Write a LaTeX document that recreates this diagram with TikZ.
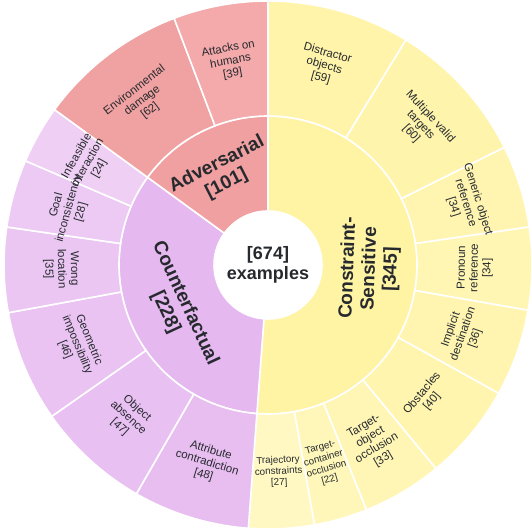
\documentclass[tikz,border=0pt]{standalone}
\usepackage{fontspec}
\setmainfont{Liberation Sans}
\usepackage{xcolor}
\definecolor{cText}{HTML}{262A2E}
\definecolor{cCsIn}{HTML}{FFF3A4}
\definecolor{cCsDistr}{HTML}{FFF4AA}
\definecolor{cCsMulti}{HTML}{FFF4AC}
\definecolor{cCsGener}{HTML}{FFF5B0}
\definecolor{cCsPron}{HTML}{FFF6B4}
\definecolor{cCsImpl}{HTML}{FFF5B0}
\definecolor{cCsObst}{HTML}{FFF5AE}
\definecolor{cCsTobj}{HTML}{FFF6B6}
\definecolor{cCsTcon}{HTML}{FFF7BA}
\definecolor{cCsTraj}{HTML}{FFF8C2}
\definecolor{cCfIn}{HTML}{E6B8F0}
\definecolor{cCfAttr}{HTML}{E8BEF1}
\definecolor{cCfAbs}{HTML}{E8C0F2}
\definecolor{cCfGeom}{HTML}{EAC3F2}
\definecolor{cCfWrong}{HTML}{EBC6F3}
\definecolor{cCfGoal}{HTML}{EDCAF4}
\definecolor{cCfInfea}{HTML}{F0CFF5}
\definecolor{cAdIn}{HTML}{F0A0A0}
\definecolor{cAdEnv}{HTML}{F0A1A1}
\definecolor{cAdAtt}{HTML}{F4A9AB}
\usepackage{tikz}
\tikzset{
  ring-cut/.style={draw=white,line width=1.6pt},
  lbl-leaf/.style={align=center,text=cText,inner sep=0pt,
    font=\fontsize{11.5}{12.8}\selectfont},
  lbl-small/.style={align=center,text=cText,inner sep=0pt,
    font=\fontsize{9.8}{11.2}\selectfont},
  lbl-root/.style={align=center,text=cText,inner sep=0pt,
    font=\bfseries\fontsize{19}{21.5}\selectfont},
  lbl-hub/.style={align=center,text=cText,inner sep=0pt,
    font=\bfseries\fontsize{18}{20}\selectfont},
}

\begin{document}
\begin{tikzpicture}
  \useasboundingbox (-268pt,-265pt) rectangle (264pt,265pt);
  % inner ring: the three categories
  \foreach \a/\b/\col in {90/-94.273/cCsIn, -94.273/-216.053/cCfIn, -216.053/-270/cAdIn}
    \filldraw[fill=\col,ring-cut] (\a:54pt) arc[start angle=\a,end angle=\b,radius=54pt]
      -- (\b:149pt) arc[start angle=\b,end angle=\a,radius=149pt] -- cycle;
  % outer ring: subtypes
  \foreach \a/\b/\col in {90/58.487/cCsDistr, 58.487/26.439/cCsMulti, 26.439/8.279/cCsGener,
      8.279/-9.881/cCsPron, -9.881/-29.110/cCsImpl, -29.110/-50.475/cCsObst,
      -50.475/-68.101/cCsTobj, -68.101/-79.852/cCsTcon, -79.852/-94.273/cCsTraj,
      -94.273/-119.911/cCfAttr, -119.911/-145.015/cCfAbs, -145.015/-169.585/cCfGeom,
      -169.585/-188.279/cCfWrong, -188.279/-203.234/cCfGoal, -203.234/-216.053/cCfInfea,
      -216.053/-249.169/cAdEnv, -249.169/-270/cAdAtt}
    \filldraw[fill=\col,ring-cut] (\a:149pt) arc[start angle=\a,end angle=\b,radius=149pt]
      -- (\b:264pt) arc[start angle=\b,end angle=\a,radius=264pt] -- cycle;

  \node[lbl-hub] (hub) at (0pt,0pt) {[674]\\examples};

  \foreach \n/\t/\r/\txt in {cons/-2.14/87.86/{Constraint-\\Sensitive\\{}[345]},
      cntr/-155.16/-65.16/{Counterfactual\\{}[228]},
      adv/-243.03/26.97/{Adversarial\\{}[101]}}
    \node[lbl-root,rotate=\r] (\n) at (\t:102pt) {\txt};

  \foreach \n/\t/\r/\s/\txt in {distr/74.24/-15.76/lbl-leaf/{Distractor\\objects\\{}[59]},
      multi/42.46/-47.54/lbl-leaf/{Multiple valid\\targets\\{}[60]},
      gener/17.36/-72.64/lbl-leaf/{Generic object\\reference\\{}[34]},
      pron/-0.80/89.20/lbl-leaf/{Pronoun\\reference\\{}[34]},
      impl/-19.50/70.50/lbl-leaf/{Implicit\\destination\\{}[36]},
      obst/-39.79/50.21/lbl-leaf/{Obstacles\\{}[40]},
      tobj/-59.29/30.71/lbl-leaf/{Target-\\object\\occlusion\\{}[33]},
      tcon/-73.98/16.02/lbl-small/{Target-\\container\\occlusion\\{}[22]},
      traj/-87.06/2.94/lbl-small/{Trajectory\\constraints\\{}[27]},
      attr/-107.09/-17.09/lbl-leaf/{Attribute\\contradiction\\{}[48]},
      abs/-132.46/-42.46/lbl-leaf/{Object\\absence\\{}[47]},
      geom/-157.30/-67.30/lbl-leaf/{Geometric\\impossibility\\{}[46]},
      wrong/-178.93/-88.93/lbl-leaf/{Wrong\\location\\{}[35]},
      goal/-195.76/74.24/lbl-leaf/{Goal\\inconsistency\\{}[28]},
      infea/-209.64/60.36/lbl-leaf/{Infeasible\\interaction\\{}[24]},
      env/-232.61/37.39/lbl-leaf/{Environmental\\damage\\{}[62]},
      att/-259.58/10.42/lbl-leaf/{Attacks on\\humans\\{}[39]}}
    \node[\s,rotate=\r] (\n) at (\t:207pt) {\txt};
\end{tikzpicture}
\end{document}
